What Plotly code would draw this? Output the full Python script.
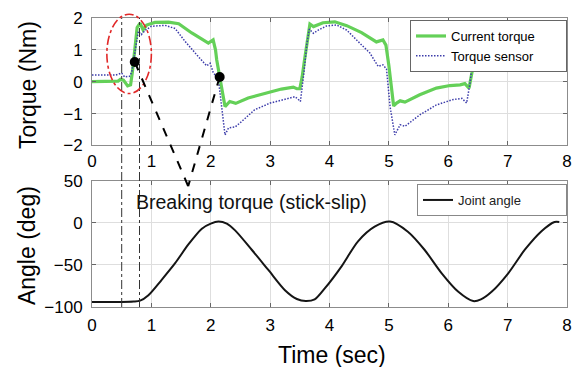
import plotly.graph_objects as go

# ---------------- data ----------------
time_current = [0.0, 0.3, 0.44, 0.48, 0.53, 0.6, 0.65, 0.68, 0.72, 0.76, 0.81, 0.86, 0.92,
                1.06, 1.29, 1.46, 1.68, 1.85, 1.96, 2.04, 2.08, 2.1, 2.15, 2.2, 2.24, 2.32,
                2.42, 2.63, 2.91, 3.19, 3.39, 3.45, 3.5, 3.54, 3.58, 3.63, 3.67, 3.73, 3.78,
                3.89, 4.09, 4.29, 4.54, 4.79, 4.9, 4.95, 5.0, 5.04, 5.08, 5.13, 5.19, 5.27,
                5.52, 5.8, 6.03, 6.2, 6.28, 6.35, 6.4, 6.45, 6.5, 6.55, 6.7, 6.95, 7.2, 7.45,
                7.7, 7.87]
current_torque = [0.0, 0.0, 0.02, 0.08, 0.05, -0.13, -0.1, 0.3, 0.9, 1.7, 1.84, 1.63, 1.78,
                  1.86, 1.87, 1.82, 1.53, 1.34, 1.21, 1.31, 1.0, 0.69, 0.16, -0.47, -0.78, -0.62,
                  -0.68, -0.51, -0.36, -0.23, -0.17, -0.22, -0.22, 0.16, 0.69, 1.4, 1.81, 1.73, 1.76,
                  1.85, 1.88, 1.76, 1.54, 1.25, 1.31, 1.15, 0.5, -0.2, -0.76, -0.67, -0.6, -0.64,
                  -0.41, -0.2, -0.12, -0.1, -0.06, -0.2, 0.3, 1.0, 1.6, 1.8, 1.85, 1.88, 1.76, 1.54,
                  1.28, 1.2]

time_sensor = [0.0, 0.4, 0.5, 0.55, 0.63, 0.67, 0.71, 0.75, 0.78, 0.83, 0.9, 1.0, 1.23, 1.4,
               1.57, 1.79, 1.93, 1.99, 2.04, 2.13, 2.18, 2.24, 2.3, 2.41, 2.52, 2.74, 3.0, 3.19,
               3.42, 3.47, 3.51, 3.57, 3.62, 3.66, 3.73, 3.81, 3.95, 4.12, 4.29, 4.51, 4.68, 4.82,
               4.9, 4.96, 5.02, 5.1, 5.19, 5.27, 5.52, 5.8, 6.06, 6.23, 6.31, 6.37, 6.43, 6.5,
               6.56, 6.65, 6.75, 6.9, 7.1, 7.3, 7.45, 7.54, 7.68, 7.77, 7.88]
sensor_torque = [0.21, 0.21, 0.27, 0.15, 0.17, 0.3, 0.79, 1.3, 1.58, 1.48, 1.62, 1.74, 1.77, 1.67,
                 1.26, 0.79, 0.5, 0.58, 0.3, 0.06, -0.7, -1.67, -1.45, -1.42, -1.25, -0.88, -0.67, -0.57,
                 -0.47, -0.55, -0.62, 0.3, 1.2, 1.65, 1.52, 1.62, 1.75, 1.78, 1.62, 1.21, 0.9, 0.48,
                 0.53, 0.4, -0.78, -1.67, -1.35, -1.4, -1.04, -0.73, -0.57, -0.52, -0.67, 0.0, 1.0, 1.55,
                 1.65, 1.55, 1.65, 1.75, 1.75, 1.55, 1.2, 0.9, 0.58, 0.42, 0.4]

time_angle = [0.0, 0.5, 0.7, 0.81, 0.95, 1.17, 1.4, 1.62, 1.85, 2.0, 2.13, 2.27, 2.41, 2.69,
              2.97, 3.25, 3.45, 3.6, 3.75, 3.92, 4.2, 4.48, 4.76, 5.02, 5.32, 5.6, 5.89, 6.17,
              6.42, 6.55, 6.73, 7.01, 7.29, 7.57, 7.79, 7.87]
joint_angle = [-94, -94, -93.5, -92.5, -86, -68, -48, -26, -7, -1, 1.5, -1, -9, -32,
               -56, -80, -90.5, -93, -91, -78, -52, -22, -4.6, 1.5, -10.6, -32, -60, -82,
               -93, -91, -82, -60, -32, -10, 1, 1]

break_time = [0.72, 2.15]
break_torque = [0.62, 0.15]
marker_times = [0.5, 0.8]
tip_time, tip_angle = 1.62, 43.5

x_ticks = [0, 1, 2, 3, 4, 5, 6, 7, 8]
torque_ticks = [-2, -1, 0, 1, 2]
angle_ticks = [-100, -50, 0, 50]

# ---------------- figure ----------------
FONT = "Liberation Sans, Arial, sans-serif"
NB = "\u00a0"
top_dom = [0.559, 1.0]
bot_dom = [0.0, 0.437]
t_rng = [-2, 2]
a_rng = [-100, 50]

fig = go.Figure()
fig.add_trace(go.Scatter(x=time_current, y=current_torque, mode="lines",
                         name="Current torque" + NB * 7,
                         line=dict(color="rgb(100,208,88)", width=3.2), xaxis="x", yaxis="y",
                         legend="legend"))
fig.add_trace(go.Scatter(x=time_sensor, y=sensor_torque, mode="lines",
                         name="Torque sensor",
                         line=dict(color="rgb(60,60,170)", width=1.5, dash="1.5px,1.5px"),
                         xaxis="x", yaxis="y", legend="legend"))
fig.add_trace(go.Scatter(x=time_angle, y=joint_angle, mode="lines",
                         name="Joint angle" + NB * 11,
                         line=dict(color="#151515", width=2, shape="spline", smoothing=0.8),
                         xaxis="x2", yaxis="y2", legend="legend2"))
fig.add_trace(go.Scatter(x=break_time, y=break_torque, mode="markers", showlegend=False,
                         marker=dict(color="black", size=10), xaxis="x", yaxis="y"))


def top_paper(t, v):
    return t / 8.0, top_dom[0] + (v - t_rng[0]) / (t_rng[1] - t_rng[0]) * (top_dom[1] - top_dom[0])


def bot_paper(t, v):
    return t / 8.0, bot_dom[0] + (v - a_rng[0]) / (a_rng[1] - a_rng[0]) * (bot_dom[1] - bot_dom[0])


shapes = []
for mt in marker_times:
    shapes.append(dict(type="line", xref="x domain", yref="paper", x0=mt / 8, x1=mt / 8,
                       y0=0, y1=1, line=dict(color="#333", width=1, dash="dashdot"), layer="above"))
shapes.append(dict(type="circle", xref="x domain", yref="y domain",
                   x0=0.25 / 8, x1=1.0 / 8, y0=(-0.37 + 2) / 4, y1=(2.12 + 2) / 4,
                   line=dict(color="rgb(225,40,40)", width=1.6, dash="dashdot"), layer="above"))
tx, ty = bot_paper(tip_time, tip_angle)
for bt, bv in zip(break_time, break_torque):
    px, py = top_paper(bt, bv)
    shapes.append(dict(type="line", xref="paper", yref="paper", x0=px, y0=py, x1=tx, y1=ty,
                       line=dict(color="black", width=2, dash="dash"), layer="above"))

annotations = [
    dict(text="Breaking torque (stick-slip)", xref="paper", yref="paper", x=0.336, y=0.364,
         showarrow=False, font=dict(size=19.5, color="#111", family=FONT), xanchor="center",
         yanchor="middle"),
    dict(text="Torque (Nm)", xref="paper", yref="paper", x=-0.135, y=0.768, textangle=-90,
         showarrow=False, font=dict(size=23, color="black", family=FONT), xanchor="center",
         yanchor="middle"),
    dict(text="Angle (deg)", xref="paper", yref="paper", x=-0.137, y=0.214, textangle=-90,
         showarrow=False, font=dict(size=23, color="black", family=FONT), xanchor="center",
         yanchor="middle"),
    dict(text="Time (sec)", xref="paper", yref="paper", x=0.505, y=-0.166,
         showarrow=False, font=dict(size=23, color="black", family=FONT), xanchor="center",
         yanchor="middle"),
]

axis_common = dict(showline=True, linecolor="#8c8c8c", linewidth=1, mirror="ticks",
                   ticks="inside", ticklen=4, tickcolor="#666", showgrid=True,
                   gridcolor="#dedede", gridwidth=1, zeroline=False, automargin=False,
                   tickfont=dict(size=17, color="black", family=FONT))

fig.update_layout(
    width=575, height=367,
    margin=dict(l=92, r=8, t=18, b=60, autoexpand=False),
    paper_bgcolor="white", plot_bgcolor="white",
    font=dict(family=FONT, color="black"),
    xaxis=dict(domain=[0, 1], anchor="y", range=[0, 8], tickvals=x_ticks,
               ticklabelstandoff=0, **axis_common),
    yaxis=dict(domain=top_dom, anchor="x", range=t_rng, tickvals=torque_ticks,
               ticklabelstandoff=5, **axis_common),
    xaxis2=dict(domain=[0, 1], anchor="y2", range=[0, 8], tickvals=x_ticks,
                ticklabelstandoff=3, **axis_common),
    yaxis2=dict(domain=bot_dom, anchor="x2", range=a_rng, tickvals=angle_ticks,
                ticklabelstandoff=5, **axis_common),
    legend=dict(x=1.0, xanchor="right", y=0.993, yanchor="top", bgcolor="white",
                bordercolor="#666", borderwidth=1, font=dict(size=13, color="black", family=FONT),
                tracegroupgap=0, itemwidth=30),
    legend2=dict(x=1.0, xanchor="right", y=0.4256, yanchor="top", bgcolor="white",
                 bordercolor="#888", borderwidth=1, font=dict(size=13, color="#222", family=FONT),
                 itemwidth=30),
    shapes=shapes,
    annotations=annotations,
    showlegend=True,
)

fig.write_html("out.html", config={"displayModeBar": False},
               post_script="document.body.style.margin='0px';"
                           "document.body.style.overflow='hidden';")
